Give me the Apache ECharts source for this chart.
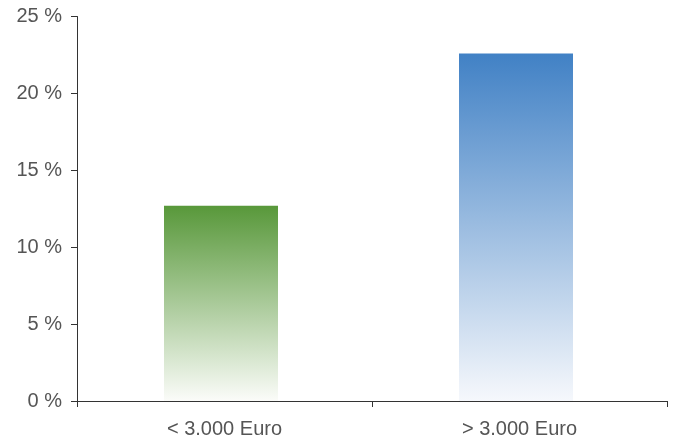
<!DOCTYPE html>
<html>
<head>
<meta charset="utf-8">
<script src="https://cdn.jsdelivr.net/npm/echarts@6/dist/echarts.min.js"></script>
<style>
  html, body { margin: 0; padding: 0; background: #fff; }
  #chart { width: 676px; height: 439px; }
</style>
</head>
<body>
<div id="chart"></div>
<script>
// Share by income group, in percent
const categories = ['< 3.000 Euro', '> 3.000 Euro'];
const shares = [12.7, 22.6];
const yTicks = [0, 5, 10, 15, 20, 25];

// Vertical fade per bar: saturated top, almost white at the base
const barGradients = [
  ['#58983a', '#fbfcf9'],
  ['#4181c5', '#f6f8fc']
];

const chart = echarts.init(document.getElementById('chart'), null, { renderer: 'canvas' });

const fontFamily = '"Liberation Sans", Arial, sans-serif';

chart.setOption({
  animation: false,
  grid: { left: 77, right: 9, top: 16.5, bottom: 38, containLabel: false },
  xAxis: {
    type: 'category',
    data: categories,
    axisLine: { lineStyle: { color: '#333', width: 1 } },
    axisTick: { show: true, length: 6, alignWithLabel: false, lineStyle: { color: '#333' } },
    axisLabel: { color: '#555', fontSize: 20, fontFamily: fontFamily, margin: 18 },
    splitLine: { show: false }
  },
  yAxis: {
    type: 'value',
    min: yTicks[0],
    max: yTicks[yTicks.length - 1],
    interval: 5,
    axisLine: { show: true, lineStyle: { color: '#333', width: 1 } },
    axisTick: { show: true, length: 6, lineStyle: { color: '#333' } },
    axisLabel: {
      color: '#555', fontSize: 20, fontFamily: fontFamily, margin: 15,
      formatter: v => v + ' %'
    },
    splitLine: { show: false }
  },
  series: [{
    type: 'bar',
    barWidth: 114,
    barGap: '5.26%',
    data: shares.map((v, i) => ({
      value: v,
      itemStyle: {
        color: new echarts.graphic.LinearGradient(0, 0, 0, 1, [
          { offset: 0, color: barGradients[i][0] },
          { offset: 1, color: barGradients[i][1] }
        ])
      }
    }))
  }, {
    // empty companion slot: nudges the visible bars slightly left of the band centre
    type: 'bar',
    barWidth: 1,
    barGap: '5.26%',
    silent: true,
    data: []
  }]
});
</script>
</body>
</html>
